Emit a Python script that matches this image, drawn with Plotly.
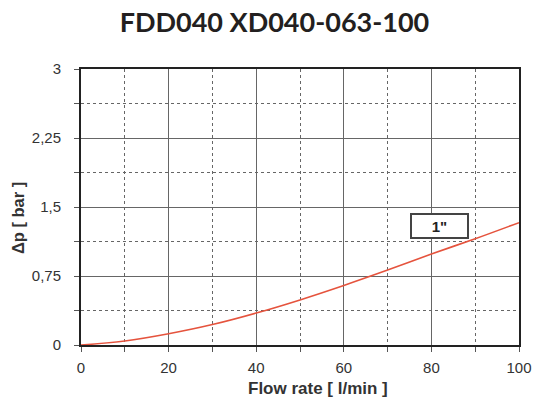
import plotly.graph_objects as go

flow = [0, 10, 20, 30, 40, 50, 60, 70, 80, 90, 100]
dp = [0, 0.043, 0.122, 0.222, 0.347, 0.49, 0.647, 0.814, 0.989, 1.155, 1.33]
y_ticks = [0, 0.75, 1.5, 2.25, 3]
y_labels = ["0", "0,75", "1,5", "2,25", "3"]
x_ticks = [0, 20, 40, 60, 80, 100]
series_label = '1"'
title = "FDD040 XD040-063-100"
x_title = "Flow rate [ l/min ]"
y_title = "Δp [ bar ]"

fig = go.Figure()
fig.add_trace(go.Scatter(x=flow, y=dp, mode="lines",
                         line=dict(color="#e5533d", width=1.6, shape="spline", smoothing=1.0),
                         showlegend=False, hoverinfo="skip"))

fig.add_annotation(x=81.9, y=1.293, xref="x", yref="y", text="<b>" + series_label + "</b>",
                   showarrow=False, bgcolor="white", bordercolor="#444", borderwidth=2,
                   width=53, height=20, font=dict(size=15, color="#222", family="Liberation Sans"))

# axis titles
fig.add_annotation(x=0.541, y=-0.158, xref="paper", yref="paper", text="<b>" + x_title + "</b>",
                   showarrow=False, xanchor="center", yanchor="middle",
                   font=dict(size=17, color="#333", family="Liberation Sans"))
fig.add_annotation(x=-0.1438, y=0.46, xref="paper", yref="paper", text="<b>" + y_title + "</b>",
                   showarrow=False, xanchor="center", yanchor="middle", textangle=-90,
                   font=dict(size=16.5, color="#333", family="Liberation Sans"))

fig.update_layout(
    width=535, height=402,
    margin=dict(l=81, r=16, t=69, b=57, autoexpand=False),
    paper_bgcolor="white", plot_bgcolor="white",
    title=dict(text="<b>" + title + "</b>", x=0.513, xanchor="center", y=0.945, yanchor="middle",
               font=dict(size=27, color="#231f20", family="Lato")),
    font=dict(family="Liberation Sans", color="#333"),
)
fig.update_xaxes(range=[0, 100], tickvals=x_ticks, ticks="outside", ticklen=5, tickcolor="#555",
                 automargin=False, ticklabelstandoff=3,
                 showgrid=True, gridcolor="#666", gridwidth=1,
                 showline=True, mirror=True, linecolor="#222", linewidth=2,
                 zeroline=False,
                 tickfont=dict(size=15, color="#333"),
                 minor=dict(dtick=10, tick0=0, showgrid=True, gridcolor="#666", griddash="dot",
                            gridwidth=1, ticks="outside", ticklen=5, tickcolor="#555"))
fig.update_yaxes(range=[0, 3], tickvals=y_ticks, ticktext=y_labels, ticks="outside", ticklen=5,
                 tickcolor="#555", automargin=False, ticklabelstandoff=10,
                 showgrid=True, gridcolor="#666", gridwidth=1,
                 showline=True, mirror=True, linecolor="#222", linewidth=2,
                 zeroline=False,
                 tickfont=dict(size=15, color="#333"),
                 minor=dict(dtick=0.375, tick0=0, showgrid=True, gridcolor="#666", griddash="dot",
                            gridwidth=1, ticks="outside", ticklen=5, tickcolor="#555"))

fig.write_html("out.html", config={"displayModeBar": False})

with open("out.html", "r", encoding="utf-8") as f:
    html = f.read()
html = html.replace("<head>", "<head><style>html,body{margin:0;padding:0;overflow:hidden}</style>", 1)
with open("out.html", "w", encoding="utf-8") as f:
    f.write(html)
